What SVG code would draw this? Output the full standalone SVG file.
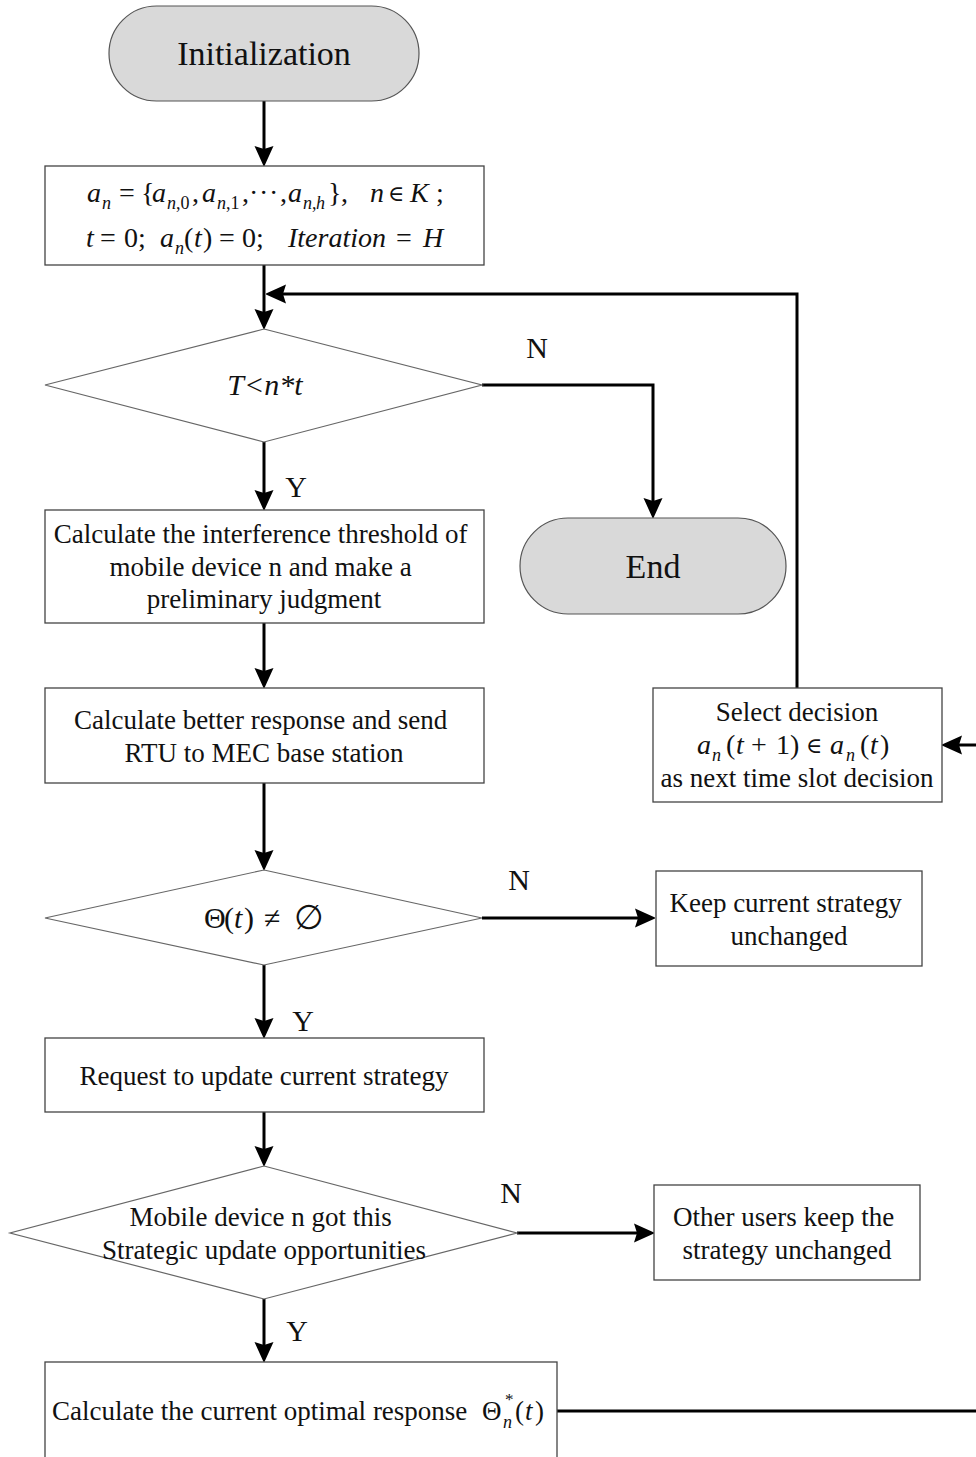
<svg xmlns="http://www.w3.org/2000/svg" width="976" height="1457" viewBox="0 0 976 1457">
<defs>
<marker id="ah" viewBox="0 -10 20 20" refX="10" refY="0" markerWidth="20" markerHeight="20" markerUnits="userSpaceOnUse" orient="auto">
<path d="M0,-9.5 L21,0 L0,9.5 L3,0 z" fill="#000"/>
</marker>
<style>
.term{fill:#d9d9d9;stroke:#555;stroke-width:1.2}
.box{fill:#fff;stroke:#444;stroke-width:1.3}
.dia{fill:#fff;stroke:#666;stroke-width:1.2}
.conn{fill:none;stroke:#000;stroke-width:3}
text{font-family:"Liberation Serif","Times New Roman","DejaVu Serif",serif;fill:#111}
.t27{font-size:27px}
.lbl{font-size:30px}
.it{font-style:italic}
.sub{font-size:18px}
.sym{font-family:"DejaVu Serif",serif;font-size:22px}
</style>
</defs>
<rect width="976" height="1457" fill="#fff"/>

<g id="connectors">
<path class="conn" d="M264,101 V156" marker-end="url(#ah)"/>
<path class="conn" d="M264,265 V319" marker-end="url(#ah)"/>
<path class="conn" d="M797,688 V294 H276" marker-end="url(#ah)"/>
<path class="conn" d="M482,385 H653 V508" marker-end="url(#ah)"/>
<path class="conn" d="M264,442 V500" marker-end="url(#ah)"/>
<path class="conn" d="M264,623 V678" marker-end="url(#ah)"/>
<path class="conn" d="M264,783 V860" marker-end="url(#ah)"/>
<path class="conn" d="M482,918 H645" marker-end="url(#ah)"/>
<path class="conn" d="M264,965 V1028" marker-end="url(#ah)"/>
<path class="conn" d="M264,1112 V1156" marker-end="url(#ah)"/>
<path class="conn" d="M517,1233 H644" marker-end="url(#ah)"/>
<path class="conn" d="M264,1299 V1352" marker-end="url(#ah)"/>
<path class="conn" d="M557,1411 H980"/>
<path class="conn" d="M980,745 H952" marker-end="url(#ah)"/>
<text class="lbl" x="537" y="358" text-anchor="middle">N</text>
<text class="lbl" x="296" y="497" text-anchor="middle">Y</text>
<text class="lbl" x="519" y="890" text-anchor="middle">N</text>
<text class="lbl" x="303" y="1031" text-anchor="middle">Y</text>
<text class="lbl" x="511" y="1203" text-anchor="middle">N</text>
<text class="lbl" x="297" y="1341" text-anchor="middle">Y</text>
</g>

<g id="init">
<rect class="term" x="109" y="6" width="310" height="95" rx="47.5"/>
<text x="264" y="65" font-size="34" text-anchor="middle">Initialization</text>
</g>

<g id="setup">
<rect class="box" x="45" y="166" width="439" height="99"/>
<text font-size="28">
<tspan class="it" x="87" y="202">a</tspan><tspan class="sub it" x="102" y="209">n</tspan><tspan x="119" y="202">=</tspan><tspan x="141" y="202">{</tspan><tspan class="it" x="152" y="202">a</tspan><tspan class="sub it" x="167" y="209">n</tspan><tspan class="sub" x="176" y="209">,0</tspan><tspan x="192" y="202">,</tspan><tspan class="it" x="202" y="202">a</tspan><tspan class="sub it" x="217" y="209">n</tspan><tspan class="sub" x="226" y="209">,1</tspan><tspan x="242" y="202">,</tspan><tspan x="249" y="202">·</tspan><tspan x="259" y="202">·</tspan><tspan x="269" y="202">·</tspan><tspan x="280" y="202">,</tspan><tspan class="it" x="288" y="202">a</tspan><tspan class="sub it" x="303" y="209">n</tspan><tspan class="sub" x="312" y="209">,</tspan><tspan class="sub it" x="316" y="209">h</tspan><tspan x="328" y="202">}</tspan><tspan x="341" y="202">,</tspan><tspan class="it" x="370" y="202">n</tspan><tspan class="sym" x="388" y="201">∈</tspan><tspan class="it" x="410" y="202">K</tspan><tspan x="436" y="202">;</tspan>
</text>
<text font-size="28">
<tspan class="it" x="86" y="247">t</tspan><tspan x="100" y="247">=</tspan><tspan x="124" y="247">0;</tspan><tspan class="it" x="160" y="247">a</tspan><tspan class="sub it" x="175" y="254">n</tspan><tspan x="184" y="247">(</tspan><tspan class="it" x="194" y="247">t</tspan><tspan x="203" y="247">)</tspan><tspan x="219" y="247">=</tspan><tspan x="242" y="247">0;</tspan><tspan class="it" x="288" y="247">Iteration</tspan><tspan x="396" y="247">=</tspan><tspan class="it" x="423" y="247">H</tspan>
</text>
</g>

<g id="cond1">
<polygon class="dia" points="264,329 482,385 264,442 45,385"/>
<text class="it" x="265" y="395" font-size="30" text-anchor="middle">T&lt;n*t</text>
</g>

<g id="end">
<rect class="term" x="520" y="518" width="266" height="96" rx="48"/>
<text x="653" y="578" font-size="34" text-anchor="middle">End</text>
</g>

<g id="calcThreshold">
<rect class="box" x="45" y="510" width="439" height="113"/>
<text class="t27" text-anchor="middle">
<tspan x="264" y="543">Calculate the interference threshold of</tspan>
<tspan x="264" y="576">mobile device n and make a</tspan>
<tspan x="264" y="608">preliminary judgment</tspan>
</text>
</g>

<g id="calcBetter">
<rect class="box" x="45" y="688" width="439" height="95"/>
<text class="t27" text-anchor="middle">
<tspan x="264" y="729">Calculate better response and send</tspan>
<tspan x="264" y="762">RTU to MEC base station</tspan>
</text>
</g>

<g id="select">
<rect class="box" x="653" y="688" width="289" height="114"/>
<text class="t27" x="797" y="721" text-anchor="middle">Select decision</text>
<text font-size="28">
<tspan class="it" x="697" y="754">a</tspan><tspan class="sub it" x="712" y="761">n</tspan><tspan x="726" y="754">(</tspan><tspan class="it" x="736" y="754">t</tspan><tspan x="751" y="754">+</tspan><tspan x="776" y="754">1)</tspan><tspan class="sym" x="806" y="753">∈</tspan><tspan class="it" x="830" y="754">a</tspan><tspan class="sub it" x="846" y="761">n</tspan><tspan x="860" y="754">(</tspan><tspan class="it" x="870" y="754">t</tspan><tspan x="880" y="754">)</tspan>
</text>
<text class="t27" x="797" y="787" text-anchor="middle">as next time slot decision</text>
</g>

<g id="cond2">
<polygon class="dia" points="264,870 482,918 264,965 45,918"/>
<text font-size="30">
<tspan x="204" y="928">Θ</tspan><tspan x="224" y="928">(</tspan><tspan class="it" x="234" y="928">t</tspan><tspan x="244" y="928">)</tspan><tspan x="264" y="928" font-size="30">≠</tspan><tspan x="294" y="929" font-size="34">∅</tspan>
</text>
</g>

<g id="keep">
<rect class="box" x="656" y="871" width="266" height="95"/>
<text class="t27" text-anchor="middle">
<tspan x="789" y="912">Keep current strategy</tspan>
<tspan x="789" y="945">unchanged</tspan>
</text>
</g>

<g id="request">
<rect class="box" x="45" y="1038" width="439" height="74"/>
<text class="t27" x="264" y="1085" text-anchor="middle">Request to update current strategy</text>
</g>

<g id="cond3">
<polygon class="dia" points="264,1166 517,1233 264,1299 10,1233"/>
<text class="t27" text-anchor="middle">
<tspan x="264" y="1226">Mobile device n got this</tspan>
<tspan x="264" y="1259">Strategic update opportunities</tspan>
</text>
</g>

<g id="other">
<rect class="box" x="654" y="1185" width="266" height="95"/>
<text class="t27" text-anchor="middle">
<tspan x="787" y="1226">Other users keep the</tspan>
<tspan x="787" y="1259">strategy unchanged</tspan>
</text>
</g>

<g id="optimal">
<rect class="box" x="45" y="1362" width="512" height="100"/>
<text class="t27" x="52" y="1420">Calculate the current optimal response</text>
<text font-size="27">
<tspan x="482" y="1420">Θ</tspan><tspan class="sub it" x="503" y="1428">n</tspan><tspan x="505" y="1405" font-size="17">*</tspan><tspan x="515" y="1420">(</tspan><tspan class="it" x="525" y="1420">t</tspan><tspan x="535" y="1420">)</tspan>
</text>
</g>
</svg>
